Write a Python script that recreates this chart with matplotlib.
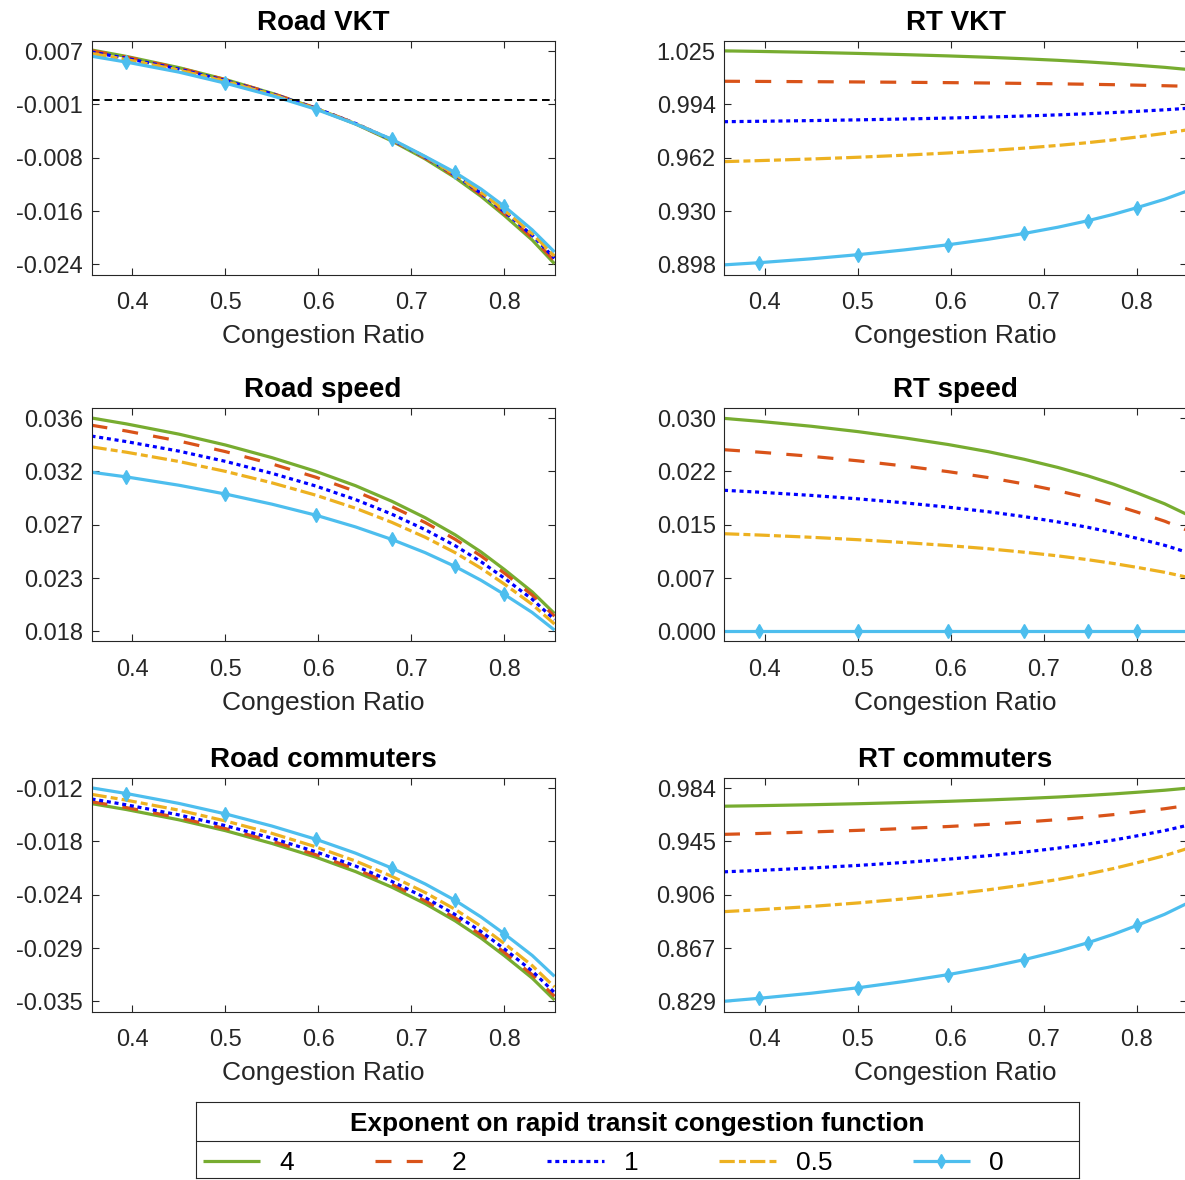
import matplotlib
matplotlib.use("Agg")
import matplotlib.pyplot as plt
import numpy as np

plt.rcParams["font.family"] = ["Liberation Sans", "DejaVu Sans"]
plt.rcParams["lines.scale_dashes"] = False

# congestion ratio sample points (x axis)
ratio = [0.356, 0.3935, 0.45, 0.50, 0.55, 0.597, 0.64, 0.679, 0.715, 0.747, 0.775, 0.800, 0.83, 0.854]
marker_idx = [1, 3, 5, 7, 9, 11]
exponents = ["4", "2", "1", "0.5", "0"]

# Road VKT
road_vkt_4 = [0.0073, 0.00637, 0.00475, 0.00304, 0.00104, -0.00111, -0.0034, -0.00585, -0.00846, -0.01114, -0.01386, -0.01662, -0.02017, -0.0236]
road_vkt_2 = [0.0072, 0.00628, 0.00469, 0.00301, 0.00104, -0.00107, -0.00333, -0.00574, -0.0083, -0.01094, -0.01362, -0.01634, -0.01983, -0.0232]
road_vkt_1 = [0.0070, 0.0061, 0.00454, 0.00289, 0.00096, -0.00111, -0.00332, -0.00569, -0.0082, -0.01078, -0.01341, -0.01607, -0.01949, -0.0228]
road_vkt_05 = [0.0068, 0.00592, 0.00439, 0.00276, 0.00087, -0.00117, -0.00335, -0.00567, -0.00814, -0.01069, -0.01327, -0.01588, -0.01925, -0.0225]
road_vkt_0 = [0.0064, 0.00555, 0.0041, 0.0025, 0.0007, -0.00125, -0.0034, -0.0056, -0.0081, -0.0104, -0.0128, -0.0153, -0.0187, -0.0219]

# RT VKT
rt_vkt_4 = [1.0257, 1.02537, 1.02479, 1.02417, 1.02345, 1.02268, 1.02186, 1.02097, 1.02004, 1.01908, 1.0181, 1.01711, 1.01583, 1.0146]
rt_vkt_2 = [1.0075, 1.00741, 1.00725, 1.00709, 1.00689, 1.00668, 1.00646, 1.00622, 1.00597, 1.00571, 1.00545, 1.00518, 1.00483, 1.0045]
rt_vkt_1 = [0.9833, 0.98354, 0.98396, 0.9844, 0.98492, 0.98548, 0.98607, 0.98671, 0.98738, 0.98807, 0.98878, 0.98949, 0.99041, 0.9913]
rt_vkt_05 = [0.9594, 0.96, 0.96097, 0.96202, 0.96325, 0.96457, 0.96598, 0.96749, 0.96909, 0.97074, 0.97241, 0.97411, 0.97629, 0.9784]
rt_vkt_0 = [0.8976, 0.8989, 0.90124, 0.9037, 0.90656, 0.90963, 0.91291, 0.91642, 0.92013, 0.92398, 0.92787, 0.93182, 0.93689, 0.9418]

# Road speed
road_speed_4 = [0.0360, 0.03551, 0.03466, 0.03376, 0.03271, 0.03158, 0.03038, 0.02909, 0.02772, 0.02631, 0.02488, 0.02343, 0.02157, 0.01977]
road_speed_2 = [0.0354, 0.03492, 0.03409, 0.03321, 0.03219, 0.03109, 0.02991, 0.02865, 0.02732, 0.02594, 0.02455, 0.02313, 0.02131, 0.01955]
road_speed_1 = [0.0345, 0.03404, 0.03325, 0.0324, 0.03141, 0.03036, 0.02923, 0.02802, 0.02673, 0.02541, 0.02407, 0.02271, 0.02096, 0.01927]
road_speed_05 = [0.0336, 0.03316, 0.03239, 0.03157, 0.03062, 0.0296, 0.02851, 0.02734, 0.0261, 0.02483, 0.02353, 0.02222, 0.02053, 0.0189]
road_speed_0 = [0.0315, 0.03111, 0.03042, 0.02969, 0.02885, 0.02794, 0.02696, 0.02592, 0.02482, 0.02368, 0.02253, 0.02136, 0.01986, 0.0184]

# RT speed
rt_speed_4 = [0.0299, 0.02949, 0.02879, 0.02804, 0.02716, 0.02623, 0.02523, 0.02415, 0.02301, 0.02184, 0.02066, 0.01945, 0.0179, 0.0164]
rt_speed_2 = [0.0255, 0.02516, 0.02457, 0.02394, 0.02321, 0.02242, 0.02159, 0.02069, 0.01974, 0.01876, 0.01776, 0.01675, 0.01546, 0.0142]
rt_speed_1 = [0.0198, 0.01954, 0.01908, 0.0186, 0.01804, 0.01743, 0.01679, 0.0161, 0.01536, 0.01461, 0.01384, 0.01306, 0.01207, 0.0111]
rt_speed_05 = [0.0137, 0.01352, 0.0132, 0.01286, 0.01246, 0.01204, 0.01159, 0.0111, 0.01059, 0.01006, 0.00952, 0.00898, 0.00828, 0.0076]
rt_speed_0 = [0.0, 0.0, 0.0, 0.0, 0.0, 0.0, 0.0, 0.0, 0.0, 0.0, 0.0, 0.0, 0.0, 0.0]

# Road commuters
road_comm_4 = [-0.0137, -0.01434, -0.01545, -0.01662, -0.018, -0.01947, -0.02104, -0.02272, -0.02451, -0.02635, -0.02822, -0.03011, -0.03254, -0.0349]
road_comm_2 = [-0.0135, -0.01413, -0.01523, -0.0164, -0.01775, -0.01921, -0.02077, -0.0224, -0.02421, -0.02603, -0.02788, -0.02976, -0.03217, -0.0345]
road_comm_1 = [-0.0132, -0.01383, -0.01492, -0.01608, -0.01743, -0.01889, -0.02044, -0.0221, -0.02386, -0.02567, -0.02751, -0.02938, -0.03178, -0.0341]
road_comm_05 = [-0.0127, -0.01333, -0.01441, -0.01557, -0.01691, -0.01836, -0.0199, -0.02155, -0.02331, -0.02511, -0.02694, -0.0288, -0.03119, -0.0335]
road_comm_0 = [-0.0120, -0.01261, -0.01368, -0.01481, -0.01612, -0.01754, -0.01905, -0.02066, -0.02238, -0.02414, -0.02594, -0.02776, -0.03009, -0.03235]

# RT commuters
rt_comm_4 = [0.9707, 0.97109, 0.97178, 0.97251, 0.97337, 0.97426, 0.97524, 0.97628, 0.97738, 0.97852, 0.97967, 0.98084, 0.98234, 0.9838]
rt_comm_2 = [0.9502, 0.95083, 0.95193, 0.9531, 0.95446, 0.95591, 0.95747, 0.95914, 0.96091, 0.96273, 0.96458, 0.96646, 0.96887, 0.9712]
rt_comm_1 = [0.9229, 0.92392, 0.92569, 0.92756, 0.92975, 0.9321, 0.93461, 0.93729, 0.94014, 0.94307, 0.94604, 0.94907, 0.95294, 0.9567]
rt_comm_05 = [0.8939, 0.89528, 0.89768, 0.90023, 0.9032, 0.90639, 0.90979, 0.9134, 0.91731, 0.92129, 0.92533, 0.92944, 0.9347, 0.9398]
rt_comm_0 = [0.8286, 0.83075, 0.83448, 0.83843, 0.84305, 0.848, 0.85329, 0.85895, 0.86496, 0.87115, 0.87743, 0.8838, 0.89198, 0.8999]

# y tick ranges (min, max) and their printed labels
road_vkt_ticks = (-0.02368, 0.00712)
road_vkt_labels = ["-0.024", "-0.016", "-0.008", "-0.001", "0.007"]
rt_vkt_ticks = (0.89796, 1.02548)
rt_vkt_labels = ["0.898", "0.930", "0.962", "0.994", "1.025"]
road_speed_ticks = (0.0183, 0.03598)
road_speed_labels = ["0.018", "0.023", "0.027", "0.032", "0.036"]
rt_speed_ticks = (0.0, 0.02992)
rt_speed_labels = ["0.000", "0.007", "0.015", "0.022", "0.030"]
road_comm_ticks = (-0.03504, -0.01204)
road_comm_labels = ["-0.035", "-0.029", "-0.024", "-0.018", "-0.012"]
rt_comm_ticks = (0.8286, 0.9838)
rt_comm_labels = ["0.829", "0.867", "0.906", "0.945", "0.984"]

x_ticks = [0.4, 0.5, 0.6, 0.7, 0.8]
x_labels = ["0.4", "0.5", "0.6", "0.7", "0.8"]

panels = [
    ("Road VKT", [road_vkt_4, road_vkt_2, road_vkt_1, road_vkt_05, road_vkt_0], road_vkt_ticks, road_vkt_labels),
    ("RT VKT", [rt_vkt_4, rt_vkt_2, rt_vkt_1, rt_vkt_05, rt_vkt_0], rt_vkt_ticks, rt_vkt_labels),
    ("Road speed", [road_speed_4, road_speed_2, road_speed_1, road_speed_05, road_speed_0], road_speed_ticks, road_speed_labels),
    ("RT speed", [rt_speed_4, rt_speed_2, rt_speed_1, rt_speed_05, rt_speed_0], rt_speed_ticks, rt_speed_labels),
    ("Road commuters", [road_comm_4, road_comm_2, road_comm_1, road_comm_05, road_comm_0], road_comm_ticks, road_comm_labels),
    ("RT commuters", [rt_comm_4, rt_comm_2, rt_comm_1, rt_comm_05, rt_comm_0], rt_comm_ticks, rt_comm_labels),
]

styles = [
    dict(color="#77AC30", linestyle="-"),
    dict(color="#D95319", linestyle=(0, (11.5, 11))),
    dict(color="#0000FF", linestyle=(0, (2.9, 2.7))),
    dict(color="#EDB120", linestyle=(0, (11, 3, 5, 3))),
    dict(color="#4DBEEE", linestyle="-", marker="d", markersize=7, markevery=marker_idx),
]

axis_grey = "#262626"
fig = plt.figure(figsize=(11.85, 11.8), dpi=100)

W, H = 1185.0, 1180.0
col_left = [91.5, 724.0]
col_width = 463.0
row_top = [41.0, 408.0, 778.0]
row_height = 233.5

handles = []
for i, (title, series, (lo, hi), labels) in enumerate(panels):
    r, c = divmod(i, 2)
    ax = fig.add_axes([col_left[c] / W, 1 - (row_top[r] + row_height) / H,
                       col_width / W, row_height / H])
    for vals, st in zip(series, styles):
        ln, = ax.plot(ratio, vals, linewidth=2.3, solid_capstyle="butt",
                      dash_capstyle="butt", **st)
        if i == 0:
            handles.append(ln)
    if title == "Road VKT":
        ax.axhline(0, color="black", linewidth=1.4, linestyle=(0, (5.5, 3.5)))
    span = hi - lo
    ax.set_ylim(lo - 0.048 * span, hi + 0.048 * span)
    ax.set_xlim(ratio[0], ratio[-1])
    ax.set_yticks(np.linspace(lo, hi, 5), labels)
    ax.set_xticks(x_ticks, x_labels)
    ax.tick_params(direction="in", top=True, right=True, length=5, width=0.8,
                   colors=axis_grey, labelsize=17, labelcolor=axis_grey)
    ax.tick_params(axis="x", pad=12.5)
    ax.tick_params(axis="y", pad=6)
    for s in ax.spines.values():
        s.set_color(axis_grey)
        s.set_linewidth(0.8)
    ax.set_title(title, fontsize=20, fontweight="bold", pad=8)
    ax.set_xlabel("Congestion Ratio", fontsize=19, color=axis_grey, labelpad=7)

# legend box with title row and separator
lax = fig.add_axes([196 / W, 1 - 1178 / H, 883 / W, 76 / H])
lax.set_xticks([])
lax.set_yticks([])
lax.set_xlim(0, 1)
lax.set_ylim(0, 1)
for s in lax.spines.values():
    s.set_color(axis_grey)
    s.set_linewidth(0.8)
lax.axhline(0.487, color=axis_grey, linewidth=0.8)
lax.text(0.5, 0.71, "Exponent on rapid transit congestion function", ha="center",
         va="center", fontsize=18.8, fontweight="bold", color="black")
lax.legend(handles, exponents, ncol=5, loc="center left", bbox_to_anchor=(0.008, 0.2),
           frameon=False, fontsize=19, handlelength=2.16, handletextpad=0.75,
           columnspacing=3.05, borderpad=0, borderaxespad=0)

fig.savefig("out.png", dpi=100)
